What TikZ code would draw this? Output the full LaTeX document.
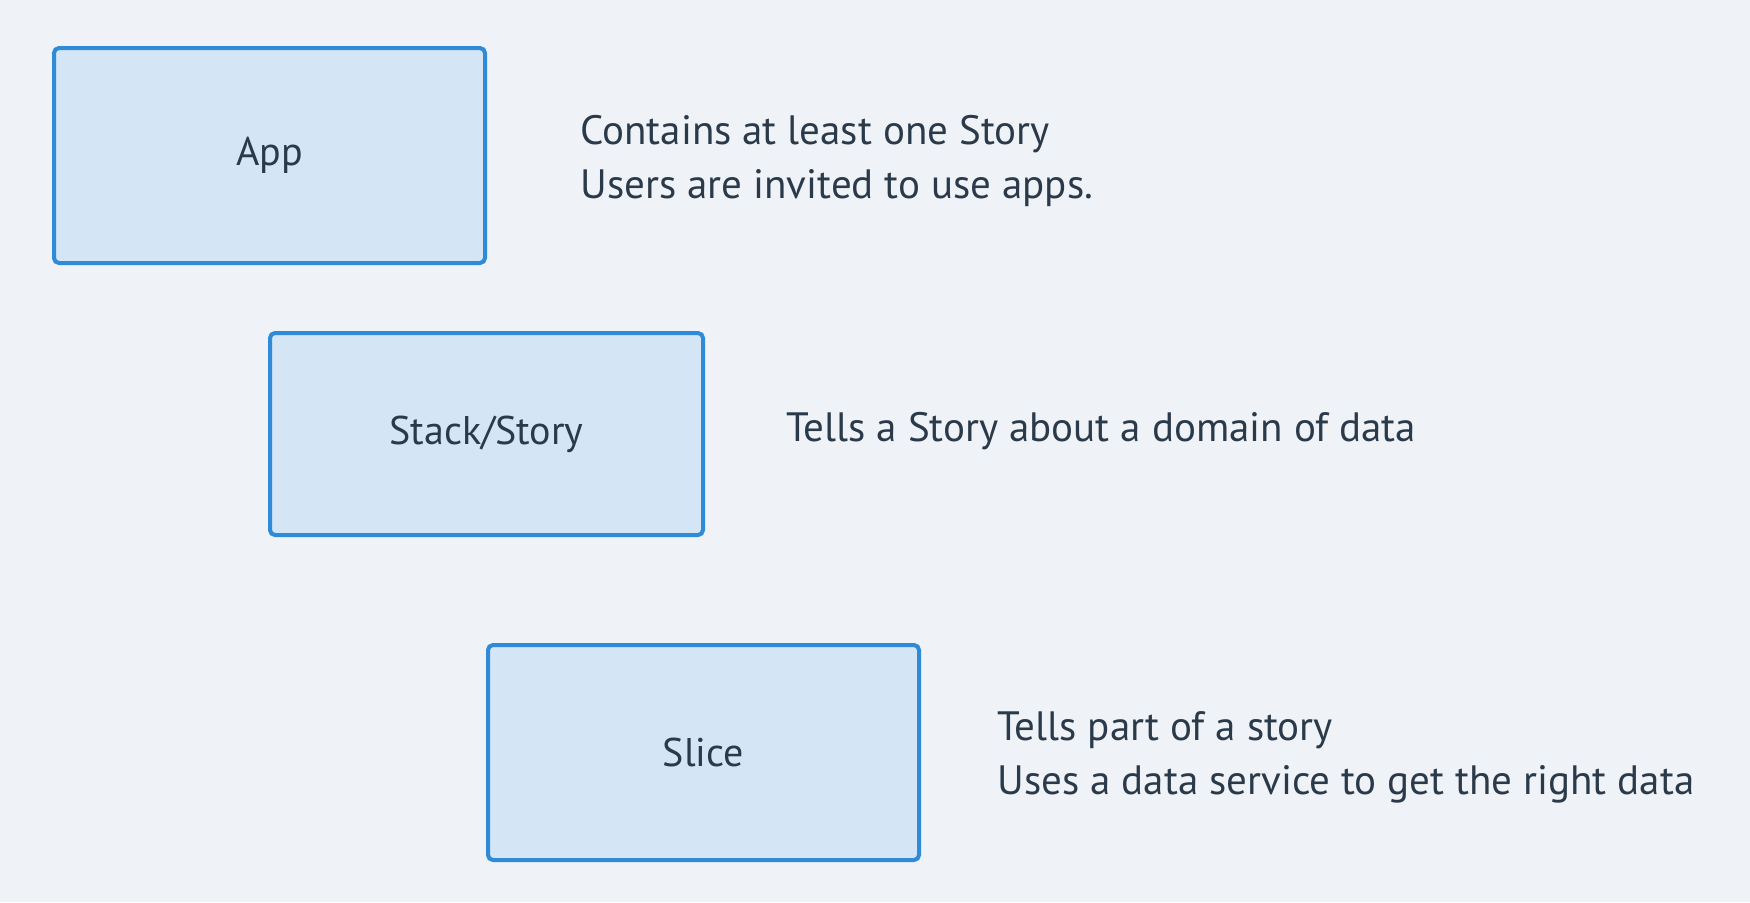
\documentclass[tikz,border=0pt]{standalone}
\usepackage{fontspec}
\setmainfont{PT Sans}
\usepackage{xcolor}
\usepackage{tikz}
\usetikzlibrary{calc}
\definecolor{bgpage}{HTML}{EFF3F7}
\definecolor{boxfill}{HTML}{D4E5F5}
\definecolor{boxline}{HTML}{2F8AD8}
\definecolor{inktext}{HTML}{2B3A4A}
\tikzstyle{blk}=[rectangle, draw=boxline, fill=boxfill,% light blue box
rounded corners=2.5pt, line width=2pt, minimum width=215.5pt, minimum height=107.5pt,
text=inktext, font=\fontsize{20}{27}\selectfont]
\tikzstyle{note}=[anchor=west, align=left, inner sep=0pt, text=inktext,
font=\fontsize{20.5}{27}\selectfont]

\begin{document}
\begin{tikzpicture}[x=0.5pt,y=-0.5pt]
\fill[bgpage] (0,0) rectangle (1750,902);
\node[blk] (app) at (269.5,155.5) {App};
\node[blk, minimum width=216.5pt, minimum height=101pt] (story) at (486.5,434) {Stack/Story};
\node[blk] (slice) at (703.5,752.5) {Slice};
\node[note] (appnote) at (580,161) {Contains at least one Story\\Users are invited to use apps.};
\node[note] (storynote) at (786,431) {Tells a Story about a domain of data};
\node[note] (slicenote) at (997,757) {Tells part of a story\\Uses a data service to get the right data};
\end{tikzpicture}
\end{document}
